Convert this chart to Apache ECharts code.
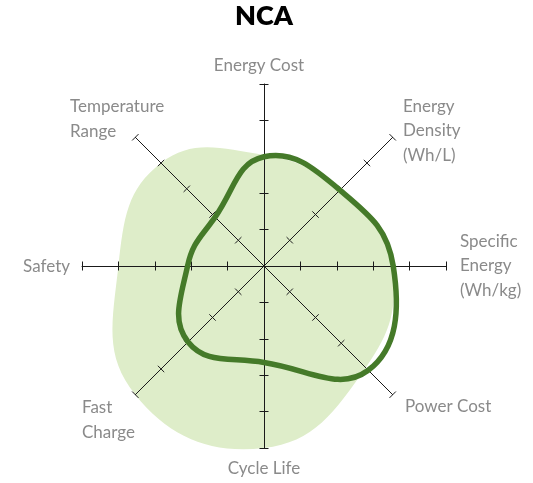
<!DOCTYPE html>
<html>
<head>
<meta charset="utf-8">
<title>NCA</title>
<script src="https://cdn.jsdelivr.net/npm/echarts@6/dist/echarts.min.js"></script>
<style>
html, body { margin: 0; padding: 0; background: #fff; }
#main { width: 533px; height: 483px; }
</style>
</head>
<body>
<div id="main"></div>
<script>
// axes, clockwise from the top
var axisNames = ['Energy Cost', 'Energy\nDensity\n(Wh/L)', 'Specific\nEnergy\n(Wh/kg)', 'Power Cost',
    'Cycle Life', 'Fast\nCharge', 'Safety', 'Temperature\nRange'];
// NCA score (dark outline)
var ncaValues = [3.0, 2.95, 3.55, 4.05, 2.65, 2.95, 2.1, 1.9];
// light green area behind it
var rangeValues = [3.05, 2.9, 3.5, 3.95, 5.0, 5.0, 4.0, 4.0];
var tickValues = [1, 2, 3, 4, 5];
var axisMax = 5;

// where the axis names sit (x, y, align)
var labelPos = [
    [259, 66, 'center'],
    [403, 131, 'left'],
    [460, 266, 'left'],
    [405, 407, 'left'],
    [264, 469, 'center'],
    [82, 420, 'left'],
    [70, 267, 'right'],
    [70, 119, 'left']
];

var cx = 264, cy = 266, rad = 182;
var lineColor = '#1a1a1a';

/*radar goes counter-clockwise, so feed it the names backwards*/
var radarIndicator = [0, 7, 6, 5, 4, 3, 2, 1].map(function (i) {
    return { name: axisNames[i].replace(/\n/g, ' '), min: 0, max: axisMax };
});

/*two radars on top of each other: one puts the ticks on each side of the axis*/
function makeRadar(side) {
    return {
        center: [cx, cy],
        radius: rad,
        startAngle: 90,
        splitNumber: tickValues.length,
        indicator: radarIndicator,
        axisName: { show: false },
        axisLine: { show: side > 0, lineStyle: { color: lineColor, width: 1 } },
        axisTick: {
            show: true,
            length: 4.5 * side,
            customValues: tickValues,
            lineStyle: { color: lineColor, width: 1 }
        },
        axisLabel: { show: false },
        splitLine: { show: false },
        splitArea: { show: false },
        z: 2
    };
}

/*smooth closed shape drawn through polar coords*/
function shapeSeries(values, fill, stroke, width, z) {
    return {
        type: 'custom',
        coordinateSystem: 'polar',
        silent: true,
        z: z,
        data: values.map(function (v, i) { return [v, i]; }),
        renderItem: function (params, api) {
            if (params.dataIndex !== 0) return null;
            var pts = [];
            for (var i = 0; i < values.length; i++) {
                pts.push(api.coord([api.value(0, i), api.value(1, i)]));
            }
            return {
                type: 'polygon',
                shape: { points: pts, smooth: 0.45 },
                style: { fill: fill, stroke: stroke, lineWidth: width, lineJoin: 'round' }
            };
        }
    };
}

var option = {
    animation: false,
    title: {
        text: 'NCA',
        left: 235,
        top: 3,
        padding: 0,
        textStyle: { fontFamily: 'Lato', fontSize: 27, fontWeight: 800, color: '#000' }
    },
    polar: { center: [cx, cy], radius: rad },
    angleAxis: { type: 'value', min: 0, max: axisNames.length, startAngle: 90, clockwise: true, show: false },
    radiusAxis: { type: 'value', min: 0, max: axisMax, show: false },
    radar: [makeRadar(1), makeRadar(-1)],
    graphic: labelPos.map(function (p, i) {
        return {
            type: 'text',
            x: p[0],
            y: p[1],
            silent: true,
            style: {
                text: axisNames[i],
                font: '17px Lato',
                fill: '#8a8a8a',
                align: p[2],
                verticalAlign: 'middle',
                lineHeight: 24.5
            }
        };
    }),
    series: [
        shapeSeries(rangeValues, '#deedc9', null, 0, 1),
        shapeSeries(ncaValues, 'none', '#457a29', 5.5, 5)
    ]
};

var myChart = echarts.init(document.getElementById('main'), null, { renderer: 'canvas' });
myChart.setOption(option);
</script>
</body>
</html>
